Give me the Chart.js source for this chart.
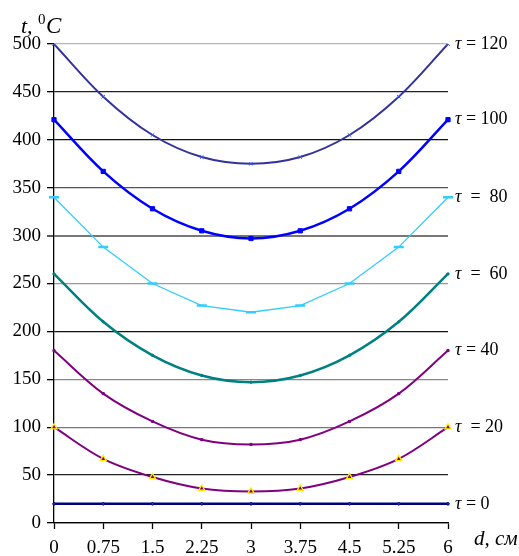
<!DOCTYPE html>
<html>
<head>
<meta charset="utf-8">
<script src="https://cdn.jsdelivr.net/npm/chart.js@4/dist/chart.umd.min.js"></script>
<style>
  html, body { margin: 0; padding: 0; background: #fff; }
  canvas { display: block; }
</style>
</head>
<body>
<canvas id="tempChart" width="519" height="556"></canvas>
<script>
// distance across the plate, cm
const distances = ['0', '0.75', '1.5', '2.25', '3', '3.75', '4.5', '5.25', '6'];
const yTicks = [0, 50, 100, 150, 200, 250, 300, 350, 400, 450, 500];

// temperature profiles, °C, one per time moment
const tau120 = [500, 445, 405, 382, 375, 382, 405, 445, 500];
const tau100 = [421, 367, 328, 305, 297, 305, 328, 367, 421];
const tau80  = [340, 288, 250, 227, 220, 227, 250, 288, 340];
const tau60  = [260, 210, 175, 154, 147, 154, 175, 210, 260];
const tau40  = [180, 135, 106, 87, 82, 87, 106, 135, 180];
const tau20  = [100, 67, 48, 36, 33, 36, 48, 67, 100];
const tau0   = [20, 20, 20, 20, 20, 20, 20, 20, 20];

const seriesLabels = ['τ = 120', 'τ = 100', 'τ  =  80', 'τ  =  60', 'τ = 40', 'τ  = 20', 'τ = 0'];

const SERIF = '"Liberation Serif", "DejaVu Serif", serif';

// horizontal gridline colours, bottom to top (Excel-style mix of greys)
const gridColors = ['#000', '#222', '#777', '#888', '#111', '#999', '#777', '#555', '#111', '#222', '#b5b5b5'];

/**
 * Right-side curve labels and the axis titles.
 */
const annotationPlugin = {
    id: 'annotations',
    afterDraw(chart) {
        const ctx = chart.ctx;
        const xScale = chart.scales.x;
        const yScale = chart.scales.y;
        ctx.save();
        ctx.fillStyle = '#000';
        ctx.textBaseline = 'middle';
        ctx.textAlign = 'left';

        chart.data.datasets.forEach((ds, i) => {
            const last = ds.data[ds.data.length - 1];
            const y = yScale.getPixelForValue(last);
            const x = xScale.getPixelForValue(ds.data.length - 1) + 7;
            ctx.font = 'italic 18px ' + SERIF;
            ctx.fillText('τ', x, y);
            const w = ctx.measureText('τ').width;
            ctx.font = '18px ' + SERIF;
            ctx.fillText(seriesLabels[i].slice(1), x + w, y);
        });

        // y-axis title: t, ⁰C
        ctx.textBaseline = 'alphabetic';
        ctx.font = 'italic 22px ' + SERIF;
        ctx.fillText('t,', 21, 33);
        ctx.font = '15px ' + SERIF;
        ctx.fillText('0', 38, 24);
        ctx.font = 'italic 23px ' + SERIF;
        ctx.fillText('C', 46, 33);

        // x-axis title: d, см
        ctx.font = 'italic 21px ' + SERIF;
        ctx.fillText('d, см', 474, 545);
        ctx.restore();
    }
};

function makeSet(data, color, width, opts) {
    return Object.assign({
        data: data,
        borderColor: color,
        backgroundColor: color,
        borderWidth: width,
        tension: 0.35,
        pointRadius: 1.5,
        pointBorderWidth: 1,
        pointStyle: 'circle',
        fill: false
    }, opts || {});
}

const ctx = document.getElementById('tempChart').getContext('2d');
new Chart(ctx, {
    type: 'line',
    data: {
        labels: distances,
        datasets: [
            makeSet(tau120, '#333399', 2, { pointStyle: 'crossRot', pointRadius: 2.5, pointBorderColor: '#3355ff' }),
            makeSet(tau100, '#0000ff', 2.5, { pointStyle: 'rect', pointRadius: 3 }),
            makeSet(tau80, '#33ccff', 1.3, { tension: 0, pointStyle: 'line', pointRadius: 5, pointBorderWidth: 2.5 }),
            makeSet(tau60, '#008080', 2.5, { pointRadius: 1.2 }),
            makeSet(tau40, '#800080', 2, { pointStyle: 'rect', pointRadius: 1.5 }),
            makeSet(tau20, '#800080', 2, { pointStyle: 'triangle', pointRadius: 3.5, pointBackgroundColor: '#800080', pointBorderColor: '#ffee00', pointBorderWidth: 1.3 }),
            makeSet(tau0, '#000080', 2.5, { pointRadius: 1.3, pointBackgroundColor: '#3344cc' })
        ]
    },
    options: {
        responsive: false,
        animation: false,
        layout: { padding: { top: 44, right: 71, left: 0, bottom: 0 } },
        plugins: {
            legend: { display: false },
            tooltip: { enabled: false }
        },
        scales: {
            x: {
                type: 'category',
                offset: false,
                border: { color: '#000', width: 1.3 },
                grid: { display: true, drawOnChartArea: false, drawTicks: true, tickLength: 6, tickColor: '#000', tickWidth: 1.3 },
                ticks: { color: '#000', font: { family: SERIF, size: 19 }, padding: 8, maxRotation: 0, autoSkip: false },
                afterFit(scale) { scale.height = 33; }
            },
            y: {
                min: 0,
                max: 500,
                afterBuildTicks(scale) { scale.ticks = yTicks.map(v => ({ value: v })); },
                border: { color: '#000', width: 1.3 },
                grid: {
                    color: c => gridColors[c.index] || '#555',
                    lineWidth: c => (c.tick && c.tick.value === 300 ? 2 : 1.3),
                    tickLength: 7,
                    tickColor: '#000',
                    tickWidth: 1.3
                },
                ticks: { color: '#000', font: { family: SERIF, size: 19 }, padding: 6 },
                afterFit(scale) { scale.width = 54; }
            }
        }
    },
    plugins: [annotationPlugin]
});
</script>
</body>
</html>
